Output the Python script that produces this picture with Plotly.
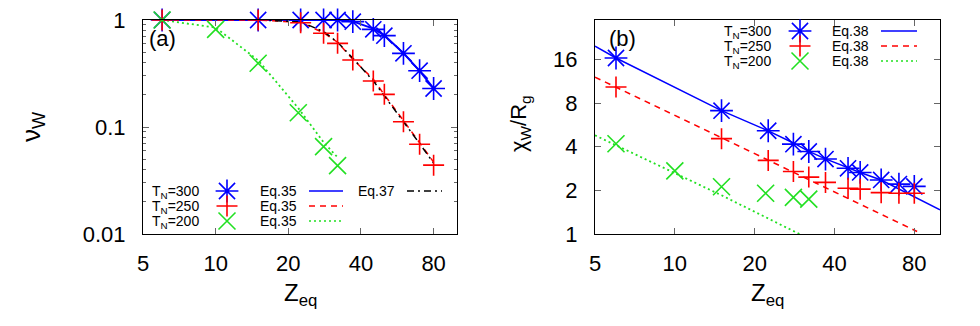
import plotly.graph_objects as go

# ── Data ──────────────────────────────────────────────────────────
z_eq = [6, 15, 22.5, 28, 32, 37, 45, 50, 60, 70, 80]
z_eq_200 = [6, 10, 15, 22, 28, 32]

# panel (a): nu_W
nu_300 = [1, 1, 1, 1, 1, 0.965, 0.818, 0.714, 0.488, 0.336, 0.229]
nu_250 = [1, 1, 0.944, 0.751, 0.605, 0.423, 0.269, 0.202, 0.112, 0.069, 0.044]
nu_200 = [1, 0.818, 0.394, 0.136, 0.0656, 0.0435]

eq35_300 = [1, 1, 1, 1, 1, 0.97, 0.83, 0.72, 0.49, 0.335, 0.23]
eq35_250 = [1, 1, 0.95, 0.76, 0.62, 0.43, 0.28, 0.2, 0.115, 0.072, 0.047]
eq35_200 = [1, 0.85, 0.42, 0.15, 0.072, 0.052]

z_eq37 = [15, 22.5, 28, 32, 37, 45, 50, 60, 70, 80]
eq37_250 = [1, 0.96, 0.78, 0.62, 0.44, 0.27, 0.195, 0.113, 0.07, 0.046]

# panel (b): chi_W / R_g
chi_300 = [16.4, 7.1, 5.16, 4.17, 3.71, 3.29, 2.84, 2.66, 2.36, 2.21, 2.13]
chi_250 = [10.35, 4.55, 3.22, 2.70, 2.47, 2.27, 2.07, 2.04, 1.93, 1.91, 1.91]
chi_200 = [4.2, 2.73, 2.12, 1.91, 1.79, 1.74]

z_eq38_300 = [5, 6, 15, 22.5, 28, 32, 37, 45, 50, 60, 70, 80, 100]
eq38_300 = [19.8, 16.4, 7.1, 5.15, 4.25, 3.72, 3.3, 2.85, 2.66, 2.36, 2.05, 1.82, 1.47]
z_eq38_250 = [5, 15, 82]
eq38_250 = [12.1, 4.6, 1.04]
z_eq38_200 = [5, 10, 15, 29.5]
eq38_200 = [4.8, 2.65, 1.85, 1.0]

x_ticks = [5, 10, 20, 40, 80]
nu_ticks = [0.01, 0.1, 1]
nu_tick_text = ["0.01", "0.1", "1"]
chi_ticks = [1, 2, 4, 8, 16]

# ── Styles ────────────────────────────────────────────────────────
W, H = 980, 326
FONT = "Liberation Sans, Arial, sans-serif"
BLUE, RED, GREEN, BLACK = "#0000ff", "#ff0000", "#22e022", "#000000"
DASH = "6px,5px"
DOT = "2px,3px"
DASHDOT = "7px,4px,2px,4px"

STAR = dict(symbol="asterisk-open", size=19, color=BLUE, line=dict(color=BLUE, width=1.6))
PLUS = dict(symbol="cross-thin-open", size=15, color=RED, line=dict(color=RED, width=1.6))
CROSS = dict(symbol="x-thin-open", size=17, color=GREEN, line=dict(color=GREEN, width=1.6))


def px(x):
    return x / W


def py(y):
    return 1 - y / H


def pts(x, y, mk, xa, ya):
    return go.Scatter(x=x, y=y, mode="markers", marker=mk,
                      xaxis=xa, yaxis=ya, cliponaxis=False, hoverinfo="skip")


def line(x, y, color, dash, width, xa, ya):
    return go.Scatter(x=x, y=y, mode="lines", line=dict(color=color, dash=dash, width=width),
                      xaxis=xa, yaxis=ya, hoverinfo="skip")


fig = go.Figure()

# ── Panel (a) ─────────────────────────────────────────────────────
fig.add_trace(line(z_eq, eq35_300, BLUE, "solid", 2, "x", "y"))
fig.add_trace(line(z_eq, eq35_250, RED, DASH, 1.5, "x", "y"))
fig.add_trace(line(z_eq_200, eq35_200, GREEN, DOT, 1.8, "x", "y"))
fig.add_trace(line(z_eq37, eq37_250, BLACK, DASHDOT, 1.5, "x", "y"))
fig.add_trace(pts(z_eq, nu_300, STAR, "x", "y"))
fig.add_trace(pts(z_eq, nu_250, PLUS, "x", "y"))
fig.add_trace(pts(z_eq_200, nu_200, CROSS, "x", "y"))

# ── Panel (b) ─────────────────────────────────────────────────────
fig.add_trace(line(z_eq38_300, eq38_300, BLUE, "solid", 1.5, "x2", "y2"))
fig.add_trace(line(z_eq38_250, eq38_250, RED, DASH, 1.5, "x2", "y2"))
fig.add_trace(line(z_eq38_200, eq38_200, GREEN, DOT, 1.8, "x2", "y2"))
fig.add_trace(pts(z_eq, chi_300, STAR, "x2", "y2"))
fig.add_trace(pts(z_eq, chi_250, PLUS, "x2", "y2"))
fig.add_trace(pts(z_eq_200, chi_200, CROSS, "x2", "y2"))

# ── Key samples (pixel-space overlay) ─────────────────────────────
key_a = dict(rows=[191, 206, 221], mark_x=227, line_x=(309, 343))
key_b = dict(rows=[31, 46, 61], mark_x=800, line_x=(881, 917))
for key in (key_a, key_b):
    for r, mk, col, d in zip(key["rows"], [STAR, PLUS, CROSS], [BLUE, RED, GREEN],
                             ["solid", DASH, DOT]):
        fig.add_trace(pts([key["mark_x"]], [r], mk, "x3", "y3"))
        fig.add_trace(line(list(key["line_x"]), [r, r], col, d, 1.5, "x3", "y3"))
fig.add_trace(line([407, 442], [191, 191], BLACK, DASHDOT, 1.5, "x3", "y3"))

# ── Axes ──────────────────────────────────────────────────────────
ax_common = dict(
    showline=True, linecolor="black", linewidth=1, mirror="allticks",
    ticks="inside", ticklen=6, tickcolor="#666", showgrid=False, zeroline=False,
    tickfont=dict(family=FONT, size=22, color="black"), fixedrange=True,
    automargin=False,
)
yd = [py(234), py(20)]

fig.update_layout(
    template="none",
    xaxis=dict(type="log", range=[0.69897, 2], domain=[px(143), px(457)], anchor="y",
               tickvals=x_ticks, ticklabelstandoff=10, **ax_common),
    yaxis=dict(type="log", range=[-2, 0], domain=yd, anchor="x",
               tickvals=nu_ticks, ticktext=nu_tick_text, ticklabelstandoff=12,
               minor=dict(ticks="inside", ticklen=3, tickcolor="#666",
                          tickvals=[k * 0.01 for k in range(2, 10)] + [k * 0.1 for k in range(2, 10)]),
               **ax_common),
    xaxis2=dict(type="log", range=[0.69897, 2], domain=[px(595), px(940)], anchor="y2",
                tickvals=x_ticks, ticklabelstandoff=10, **ax_common),
    yaxis2=dict(type="log", range=[0, 1.4771], domain=yd, anchor="x2",
                tickvals=chi_ticks, ticklabelstandoff=12, **ax_common),
    xaxis3=dict(range=[0, W], domain=[0, 1], anchor="y3", visible=False,
                fixedrange=True, automargin=False),
    yaxis3=dict(range=[H, 0], domain=[0, 1], anchor="x3", visible=False,
                fixedrange=True, automargin=False),
    width=W, height=H,
    margin=dict(l=0, r=0, t=0, b=0, pad=0),
    paper_bgcolor="white", plot_bgcolor="rgba(0,0,0,0)",
    showlegend=False,
    font=dict(family=FONT, color="black"),
)

# ── Text ──────────────────────────────────────────────────────────
def text(x, y, s, size, xanchor="center", angle=0):
    fig.add_annotation(x=px(x), y=py(y), xref="paper", yref="paper", text=s,
                       showarrow=False, xanchor=xanchor, yanchor="middle",
                       textangle=angle, font=dict(family=FONT, size=size, color="black"))


text(300, 294, "Z<sub>eq</sub>", 24)
text(767, 294, "Z<sub>eq</sub>", 24)
text(33, 127, "ν<sub>W</sub>", 26, angle=-90)
text(520, 124, "χ<sub>W</sub>/R<sub>g</sub>", 22, angle=-90)
text(147, 38, "(a)", 22, xanchor="left")
text(607, 38, "(b)", 22, xanchor="left")

for r, t in zip([191, 206, 221], ["300", "250", "200"]):
    text(201, r + 1, f"T<sub>N</sub>={t}", 14, xanchor="right")
    text(299, r, "Eq.35", 14, xanchor="right")
text(397, 191, "Eq.37", 14, xanchor="right")

for r, t in zip([31, 46, 61], ["300", "250", "200"]):
    text(773, r + 1, f"T<sub>N</sub>={t}", 14, xanchor="right")
    text(871, r, "Eq.38", 14, xanchor="right")

fig.write_html("out.html", config={"displayModeBar": False},
               post_script="document.body.style.margin='0';")
